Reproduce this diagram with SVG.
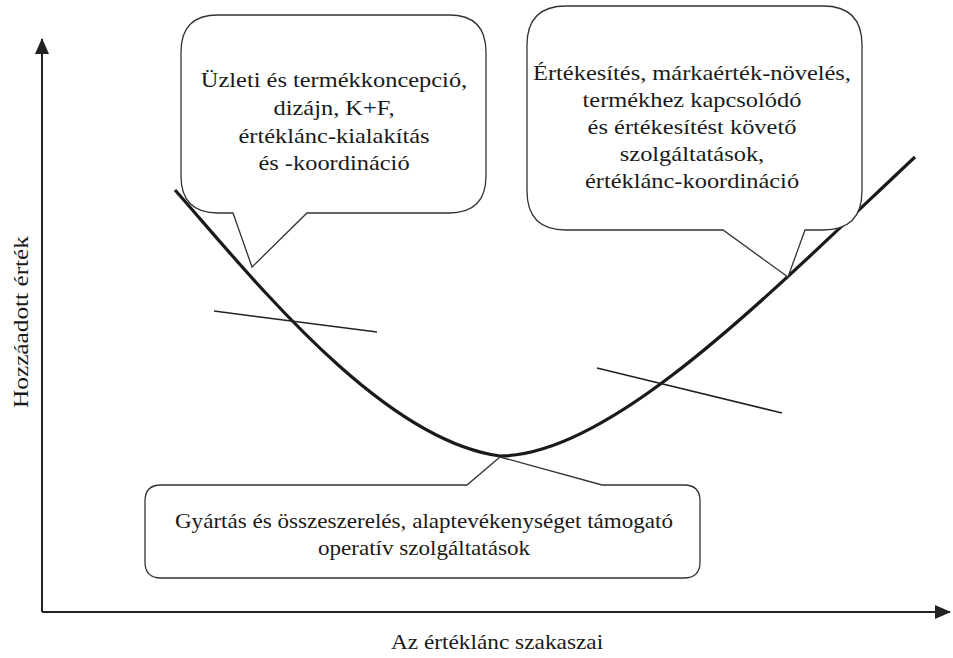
<svg xmlns="http://www.w3.org/2000/svg" width="953" height="658" viewBox="0 0 953 658">
<style>
text{font-family:"Liberation Serif","Times New Roman",serif;font-size:22px;fill:#1a1a1a;text-anchor:middle}
.co{fill:#fff;stroke:#333;stroke-width:1.3}
.ax{stroke:#222;stroke-width:2;fill:none}
.thin{stroke:#222;stroke-width:1.5;fill:none}
.curve{stroke:#1a1a1a;stroke-width:3.2;fill:none}
</style>
<defs>
<marker id="arrA" viewBox="0 0 16 14" refX="15" refY="7" markerWidth="16" markerHeight="14" markerUnits="userSpaceOnUse" orient="auto">
<path d="M0,0 L16,7 L0,14 z" fill="#222"/>
</marker>
</defs>
<g id="axes">
<path class="ax" d="M42,612 L42,39" marker-end="url(#arrA)"/>
<path class="ax" d="M42,612 L950,612" marker-end="url(#arrA)"/>
<text transform="translate(28,322) rotate(-90) scale(1.15,1)">Hozzáadott érték</text>
<text transform="translate(497,649) scale(1.06,1)">Az értéklánc szakaszai</text>
</g>
<g id="connectors">
<path class="curve" d="M175,190 C250,275 380,440 500,456 C610,456 765,298 915,157"/>
<path class="thin" d="M214,311 L377,332"/>
<path class="thin" d="M597,368 L782,413"/>
</g>
<g id="callout-left">
<path class="co" d="M218,15 L449,15 Q486,15 486,52 L486,176 Q486,213 449,213 L307,213 L252,267 L233,213 L218,213 Q181,213 181,176 L181,52 Q181,15 218,15 Z"/>
<g transform="translate(334,0) scale(1.11,1)">
<text x="0" y="87">Üzleti és termékkoncepció,</text>
<text x="0" y="115">dizájn, K+F,</text>
<text x="0" y="143">értéklánc-kialakítás</text>
<text x="0" y="170">és -koordináció</text>
</g>
</g>
<g id="callout-right">
<path class="co" d="M566,6 L823,6 Q862,6 862,45 L862,191 Q862,230 823,230 L805,230 L788,277 L723,230 L566,230 Q527,230 527,191 L527,45 Q527,6 566,6 Z"/>
<g transform="translate(692,0) scale(1.11,1)">
<text x="0" y="80">Értékesítés, márkaérték-növelés,</text>
<text x="0" y="107">termékhez kapcsolódó</text>
<text x="0" y="134">és értékesítést követő</text>
<text x="0" y="161">szolgáltatások,</text>
<text x="0" y="188">értéklánc-koordináció</text>
</g>
</g>
<g id="callout-bottom">
<path class="co" d="M161,485 L467,485 L500,457 L602,485 L684,485 Q700,485 700,501 L700,562 Q700,578 684,578 L161,578 Q145,578 145,562 L145,501 Q145,485 161,485 Z"/>
<g transform="translate(424,0) scale(1.05,1)">
<text x="0" y="528">Gyártás és összeszerelés, alaptevékenységet támogató</text>
<text x="0" y="555">operatív szolgáltatások</text>
</g>
</g>
</svg>
